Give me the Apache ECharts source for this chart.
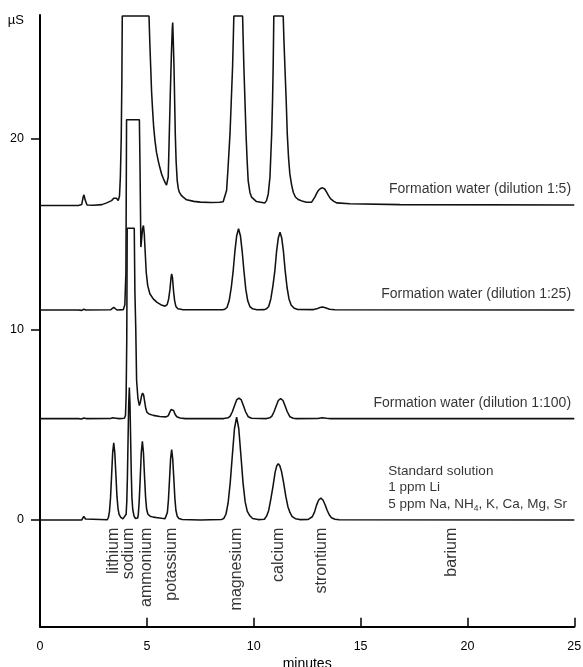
<!DOCTYPE html>
<html><head><meta charset="utf-8">
<script src="https://cdn.jsdelivr.net/npm/echarts@6/dist/echarts.min.js"></script>
<style>html,body{margin:0;padding:0;background:#fff}#c{width:583px;height:667px}</style>
</head><body><div id="c"></div>
<script>
// ---- data (minutes, µS) ----
const xTicks = [0, 5, 10, 15, 20, 25];
const yTicks = [0, 10, 20];

const standardTrace = [
 [0,0],[1.8,0],[1.87,-0.1],[1.95,0.0],[2.05,0.19],[2.13,0.05],[2.22,0],[3.15,0.01],
 [3.2,0.13],[3.25,0.44],[3.3,1.16],[3.35,2.33],[3.4,3.52],[3.45,4.05],[3.5,3.52],[3.55,2.4],[3.6,1.25],[3.65,0.6],[3.7,0.3],[3.78,0.14],[3.88,0.06],
 [3.97,0.04],[4.03,0.3],[4.06,0.94],[4.09,2.26],[4.12,4.2],[4.15,6.1],[4.18,6.95],[4.21,6.1],[4.24,4.3],[4.27,2.5],[4.3,1.2],[4.34,0.55],[4.4,0.2],[4.47,0.08],[4.53,0.06],
 [4.57,0.1],[4.6,0.3],[4.64,0.95],[4.69,2.2],[4.74,3.54],[4.79,4.13],[4.84,3.54],[4.89,2.3],[4.94,1.2],[4.99,0.55],[5.05,0.3],[5.15,0.2],[5.3,0.15],[5.5,0.12],[5.7,0.09],[5.85,0.07],
 [5.91,0.08],[5.96,0.4],[6.01,1.06],[6.06,2.12],[6.11,3.2],[6.16,3.69],[6.21,3.2],[6.26,2.2],[6.31,1.15],[6.36,0.5],[6.42,0.2],[6.5,0.08],[6.65,0.03],[7.5,0],
 [8.5,0.03],[8.6,0.08],[8.7,0.3],[8.8,0.88],[8.9,1.95],[9.0,3.4],[9.1,4.8],[9.2,5.4],[9.3,4.8],[9.4,3.4],[9.5,1.95],[9.6,0.95],[9.7,0.45],[9.82,0.22],[9.95,0.08],[10.2,0.02],
 [10.5,0.04],[10.6,0.2],[10.7,0.5],[10.8,1.1],[10.9,1.75],[11.0,2.5],[11.08,2.85],[11.15,2.96],[11.22,2.85],[11.3,2.55],[11.4,1.95],[11.5,1.25],[11.6,0.7],[11.7,0.38],[11.8,0.18],[11.95,0.07],[12.15,0.02],
 [12.55,0.03],[12.64,0.07],[12.74,0.17],[12.84,0.4],[12.94,0.78],[13.04,1.05],[13.14,1.15],[13.24,1.05],[13.34,0.8],[13.44,0.5],[13.54,0.26],[13.64,0.12],[13.8,0.04],[14.0,0.01],[25,0]
];

const dilution100Trace = [
 [0,5.32],[1.8,5.32],[1.87,5.27],[1.95,5.3],[2.05,5.35],[2.15,5.32],[3.3,5.33],[3.4,5.36],[3.48,5.38],[3.56,5.34],[3.7,5.32],[3.95,5.34],
 [4.0,5.5],[4.03,6.5],[4.06,9.5],[4.08,15.31],[4.41,15.31],[4.44,12.0],[4.48,10.1],[4.52,7.33],[4.58,6.4],[4.65,6.0],
 [4.7,6.2],[4.75,6.5],[4.8,6.66],[4.85,6.55],[4.9,6.2],[4.95,5.85],[5.0,5.66],[5.1,5.56],[5.3,5.49],[5.6,5.43],[5.9,5.41],
 [6.0,5.47],[6.07,5.65],[6.13,5.8],[6.19,5.84],[6.25,5.75],[6.32,5.55],[6.4,5.42],[6.55,5.35],[6.8,5.32],
 [8.6,5.32],[8.8,5.36],[8.9,5.45],[9.0,5.68],[9.1,6.0],[9.2,6.3],[9.31,6.4],[9.42,6.3],[9.52,6.0],[9.62,5.68],[9.74,5.42],[9.9,5.34],
 [10.6,5.32],[10.75,5.36],[10.85,5.45],[10.95,5.68],[11.05,5.98],[11.15,6.27],[11.26,6.37],[11.37,6.27],[11.47,5.98],[11.57,5.68],[11.69,5.42],[11.85,5.34],
 [12.0,5.32],[13.0,5.33],[13.2,5.37],[13.4,5.34],[13.6,5.32],[25,5.32]
];

const dilution25Trace = [
 [0,11.02],[1.8,11.02],[1.87,10.96],[1.95,11.0],[2.05,11.06],[2.15,11.02],[3.3,11.03],[3.38,11.1],[3.45,11.16],[3.52,11.1],[3.6,11.02],[3.9,11.04],
 [3.97,11.3],[4.02,13.0],[4.05,21.0],[4.65,21.0],[4.68,18.5],[4.72,14.32],[4.76,14.8],[4.8,15.3],[4.84,15.45],[4.88,15.0],[4.92,14.1],[4.97,13.0],
 [5.04,12.3],[5.14,11.87],[5.3,11.6],[5.46,11.43],[5.65,11.3],[5.85,11.22],[5.95,11.3],[6.02,11.6],[6.08,12.1],[6.13,12.7],[6.16,12.92],[6.2,12.7],[6.25,12.0],[6.3,11.5],[6.36,11.2],[6.45,11.08],[6.7,11.03],
 [8.55,11.03],[8.65,11.06],[8.75,11.15],[8.85,11.5],[8.95,12.2],[9.04,13.09],[9.12,14.1],[9.2,14.9],[9.29,15.28],[9.38,14.9],[9.46,14.1],[9.54,13.09],[9.63,12.1],[9.72,11.5],[9.82,11.2],[9.95,11.08],[10.15,11.03],
 [10.5,11.04],[10.6,11.08],[10.7,11.2],[10.8,11.6],[10.9,12.3],[10.99,13.09],[11.07,14.1],[11.15,14.8],[11.23,15.1],[11.31,14.8],[11.39,14.1],[11.47,13.1],[11.56,12.2],[11.65,11.6],[11.75,11.28],[11.88,11.12],[12.05,11.05],
 [12.8,11.04],[12.95,11.08],[13.1,11.15],[13.22,11.18],[13.35,11.14],[13.55,11.06],[13.8,11.03],[25,11.02]
];

const dilution5Trace = [
 [0,16.5],[1.8,16.5],[1.87,16.41],[1.95,16.55],[2.02,16.95],[2.06,17.06],[2.11,16.8],[2.2,16.53],[2.5,16.52],[2.9,16.55],[3.12,16.64],[3.35,16.76],[3.45,16.88],[3.51,16.97],[3.58,16.88],[3.66,16.76],
 [3.72,17.0],[3.76,18.0],[3.8,20.0],[3.83,23.0],[3.85,26.45],[5.1,26.45],[5.14,25.0],[5.18,23.76],[5.22,22.5],[5.27,21.48],[5.32,20.6],[5.38,19.91],[5.45,19.3],[5.53,18.86],[5.61,18.48],[5.69,18.16],[5.77,17.92],[5.85,17.72],[5.92,17.57],[5.96,17.5],
 [6.0,18.0],[6.05,20.26],[6.1,22.5],[6.15,24.5],[6.19,25.8],[6.21,26.11],[6.24,25.0],[6.27,23.76],[6.3,22.0],[6.33,20.26],[6.37,18.8],[6.42,17.81],[6.47,17.4],[6.52,17.2],[6.6,17.05],[6.7,16.94],[6.86,16.8],[7.2,16.72],[7.5,16.68],
 [8.0,16.66],[8.4,16.67],[8.57,16.7],[8.65,16.8],[8.73,17.29],[8.8,18.5],[8.89,20.26],[8.95,22.0],[9.01,23.76],[9.05,25.5],[9.07,26.45],[9.48,26.45],[9.5,25.5],[9.54,23.76],[9.59,22.0],[9.64,20.26],[9.69,18.9],[9.74,17.81],[9.82,17.2],[9.9,16.94],[10.13,16.71],[10.52,16.64],
 [10.6,16.76],[10.68,17.11],[10.76,17.99],[10.84,20.26],[10.88,22.0],[10.91,23.76],[10.93,25.5],[10.94,26.45],[11.38,26.45],[11.41,25.3],[11.46,23.76],[11.52,22.0],[11.57,20.26],[11.63,19.0],[11.69,18.16],[11.77,17.6],[11.85,17.2],[11.95,16.95],[12.08,16.82],[12.3,16.72],[12.47,16.67],[12.71,16.68],
 [12.86,16.94],[12.95,17.15],[13.02,17.29],[13.12,17.39],[13.22,17.43],[13.32,17.37],[13.41,17.2],[13.5,17.02],[13.6,16.85],[13.75,16.72],[13.88,16.64],[14.5,16.59],[16.84,16.55],[25,16.53]
];

const ionNames = ['lithium','sodium','ammonium','potassium','magnesium','calcium','strontium','barium'];
const ionTimes = [3.43, 4.16, 5.0, 6.16, 9.2, 11.15, 13.18, 19.26];

const traceNames = ['Formation water (dilution 1:5)','Formation water (dilution 1:25)','Formation water (dilution 1:100)'];
const traceNameAnchors = [[24.85, 17.34],[24.85, 11.84],[24.85, 6.14]];
const standardLines = ['Standard solution', '1 ppm Li', '5 ppm Na, NH{sub|4}, K, Ca, Mg, Sr'];
const standardAnchor = [16.3, 2.57];

// ---- chart ----
const FONT = '"Liberation Sans", Arial, Helvetica, sans-serif';
const lineStyle = { color: '#111', width: 1.55 };
function trace(name, data) {
  return { type: 'line', name, data, showSymbol: false, symbol: 'none', lineStyle, clip: true, silent: true, z: 3 };
}

const chart = echarts.init(document.getElementById('c'), null, { renderer: 'canvas' });
chart.setOption({
  animation: false,
  backgroundColor: '#fff',
  textStyle: { fontFamily: FONT, color: '#000' },
  grid: { left: 40, right: 8.7, top: 15, bottom: 40.3, containLabel: false, outerBoundsMode: 'none' },
  xAxis: {
    type: 'value', min: 0, max: 25,
    axisLine: { show: true, onZero: false, lineStyle: { color: '#000', width: 2 } },
    axisTick: { show: true, inside: true, length: 9, customValues: xTicks.slice(1), lineStyle: { color: '#000', width: 1.5 } },
    axisLabel: { customValues: xTicks, margin: 13, fontSize: 12.5, color: '#000', fontFamily: FONT },
    splitLine: { show: false },
    name: 'minutes', nameLocation: 'middle', nameGap: 26,
    nameTextStyle: { fontSize: 14, color: '#000', fontFamily: FONT }
  },
  yAxis: {
    type: 'value', min: -5.6, max: 26.5,
    axisLine: { show: true, onZero: false, lineStyle: { color: '#000', width: 2 } },
    axisTick: { show: true, inside: false, length: 9, customValues: yTicks, lineStyle: { color: '#000', width: 1.5 } },
    axisLabel: { customValues: yTicks, margin: 16, fontSize: 12.5, color: '#000', fontFamily: FONT },
    splitLine: { show: false },
    name: 'µS', nameLocation: 'end', nameGap: -5.5,
    nameTextStyle: { fontSize: 13, color: '#000', fontFamily: FONT, align: 'right', verticalAlign: 'middle', padding: [0, 16, 0, 0] }
  },
  series: [
    trace('Standard solution', standardTrace),
    trace('Formation water (dilution 1:100)', dilution100Trace),
    trace('Formation water (dilution 1:25)', dilution25Trace),
    trace('Formation water (dilution 1:5)', dilution5Trace),
    {
      type: 'scatter', name: 'ions', silent: true, z: 5,
      symbolSize: 0.1, itemStyle: { color: 'rgba(0,0,0,0)' },
      data: ionTimes.map((t, i) => ({ value: [t, -0.41], name: ionNames[i] })),
      label: { show: true, position: [0, 0], rotate: 90, align: 'right', verticalAlign: 'middle',
               formatter: p => p.name, fontSize: 16, color: '#000', fontFamily: FONT }
    },
    {
      type: 'scatter', name: 'traceNames', silent: true, z: 5,
      symbolSize: 0.1, itemStyle: { color: 'rgba(0,0,0,0)' },
      data: traceNames.map((n, i) => ({ value: traceNameAnchors[i], name: n })),
      label: { show: true, position: [0, 0], align: 'right', verticalAlign: 'middle',
               formatter: p => p.name, fontSize: 14, color: '#000', fontFamily: FONT }
    },
    {
      type: 'scatter', name: 'standardNote', silent: true, z: 5,
      symbolSize: 0.1, itemStyle: { color: 'rgba(0,0,0,0)' },
      data: [{ value: standardAnchor, name: 'std' }],
      label: { show: true, position: [0, -8.4], align: 'left', verticalAlign: 'top',
               formatter: () => standardLines.join('\n'),
               fontSize: 13.5, lineHeight: 16.7, color: '#000', fontFamily: FONT,
               rich: { sub: { fontSize: 8.5, lineHeight: 9, verticalAlign: 'bottom', color: '#000', fontFamily: FONT } } }
    }
  ]
});
</script>
</body></html>
